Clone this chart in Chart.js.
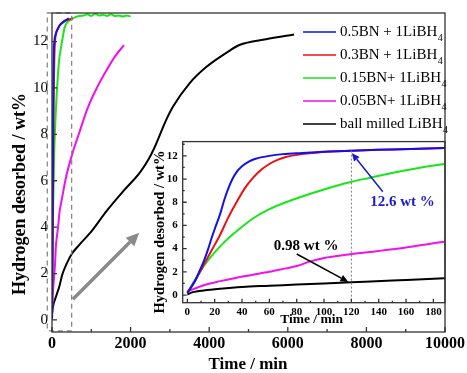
<!DOCTYPE html>
<html>
<head>
<meta charset="utf-8">
<script src="https://cdn.jsdelivr.net/npm/chart.js@4.4.1/dist/chart.umd.min.js"></script>
<style>
html, body { margin: 0; padding: 0; background: #fff; }
#wrap { position: relative; width: 467px; height: 373px; }
#main { position: absolute; left: 0; top: 0; }
#inset { position: absolute; left: 150px; top: 130px; }
</style>
</head>
<body>
<div id="wrap">
  <canvas id="main" width="467" height="373"></canvas>
  <canvas id="inset" width="300" height="200"></canvas>
</div>
<script>
// Series names (last digit is written as a subscript)
const seriesNames = ['0.5BN + 1LiBH4', '0.3BN + 1LiBH4', '0.15BN+ 1LiBH4', '0.05BN+ 1LiBH4', 'ball milled LiBH4'];

// Time (min) and hydrogen desorbed (wt%)
const time05BN = [0, 3, 6, 9, 12, 15, 18, 21, 24, 27, 30, 33, 36, 40, 45, 50, 60, 70, 84, 100, 120, 150, 188, 250, 330, 430];
const wt05BN   = [0.2, 0.7, 1.3, 2.1, 2.9, 3.9, 5.0, 6.0, 7.0, 8.2, 9.2, 10.0, 10.6, 11.1, 11.5, 11.75, 12.0, 12.15, 12.25, 12.35, 12.45, 12.55, 12.68, 12.8, 12.9, 13.0];

const time03BN = [0, 6, 12, 18, 24, 30, 36, 42, 48, 54, 60, 66, 72, 84, 96, 110, 120, 150, 188, 250, 330, 420, 530];
const wt03BN   = [0.2, 1.3, 2.6, 3.9, 5.2, 6.7, 8.0, 9.2, 10.1, 10.8, 11.3, 11.65, 11.9, 12.15, 12.3, 12.4, 12.45, 12.55, 12.68, 12.78, 12.88, 12.95, 13.0];

const time015BN = [0, 6, 12, 18, 24, 30, 36, 48, 60, 72, 84, 100, 118, 133, 157, 188, 236, 280, 320, 400, 490, 600, 700, 800, 900, 1000, 1100, 1200, 1300, 1400, 1500, 1600, 1700, 1800, 1900, 2000];
const wt015BN   = [0.2, 1.4, 2.5, 3.4, 4.2, 4.9, 5.5, 6.6, 7.4, 8.0, 8.5, 9.1, 9.7, 10.1, 10.7, 11.3, 11.8, 12.25, 12.6, 12.85, 12.95, 13.05, 13.1, 13.12, 13.18, 13.1, 13.2, 13.12, 13.15, 13.1, 13.18, 13.1, 13.12, 13.08, 13.12, 13.08];

const time005BN = [0, 12, 24, 36, 48, 60, 72, 80, 90, 100, 118, 140, 160, 188, 250, 350, 506, 700, 900, 1140, 1400, 1600, 1833];
const wt005BN   = [0.3, 0.85, 1.2, 1.5, 1.75, 2.0, 2.3, 2.5, 2.9, 3.2, 3.5, 3.8, 4.1, 4.6, 5.2, 6.1, 7.1, 8.1, 9.1, 10.0, 10.8, 11.35, 11.85];

const timeBM = [0, 4, 12, 24, 40, 60, 80, 100, 120, 150, 188, 260, 380, 506, 700, 970, 1392, 1814, 2235, 2450, 2600, 2750, 2900, 3080, 3500, 3924, 4514, 4767, 5443, 6160];
const wtBM   = [0.05, 0.25, 0.4, 0.55, 0.7, 0.8, 0.9, 1.0, 1.1, 1.25, 1.45, 1.95, 2.45, 2.85, 3.25, 3.75, 4.7, 5.55, 6.35, 6.9, 7.4, 8.0, 8.6, 9.2, 10.2, 10.9, 11.6, 11.85, 12.1, 12.3];

// Tick labels
const mainXTicks = [0, 2000, 4000, 6000, 8000, 10000];
const mainYTicks = [0, 2, 4, 6, 8, 10, 12];
const insetXTicks = [0, 20, 40, 60, 80, 100, 120, 140, 160, 180];
const insetYTicks = [0, 2, 4, 6, 8, 10, 12];

const allTimes = [time05BN, time03BN, time015BN, time005BN, timeBM];
const allWt = [wt05BN, wt03BN, wt015BN, wt005BN, wtBM];
const seriesColors = ['#1010ee', '#ee1010', '#18e618', '#f010f0', '#000000'];

const SERIF = '"Liberation Serif", "Times New Roman", serif';

function makeDatasets(width) {
    return seriesNames.map((name, i) => ({
        label: name,
        data: allTimes[i].map((t, j) => ({ x: t, y: allWt[i][j] })),
        borderColor: seriesColors[i],
        backgroundColor: seriesColors[i],
        borderWidth: width,
        pointRadius: 0,
        fill: false,
        cubicInterpolationMode: 'monotone'
    }));
}

function drawArrow(ctx, x1, y1, x2, y2, color, width, head, headW) {
    const a = Math.atan2(y2 - y1, x2 - x1);
    const bx = x2 - head * Math.cos(a), by = y2 - head * Math.sin(a);
    ctx.save();
    ctx.strokeStyle = color;
    ctx.fillStyle = color;
    ctx.lineWidth = width;
    ctx.beginPath();
    ctx.moveTo(x1, y1);
    ctx.lineTo(bx, by);
    ctx.stroke();
    ctx.beginPath();
    ctx.moveTo(x2, y2);
    ctx.lineTo(bx + headW * Math.sin(a), by - headW * Math.cos(a));
    ctx.lineTo(bx - headW * Math.sin(a), by + headW * Math.cos(a));
    ctx.closePath();
    ctx.fill();
    ctx.restore();
}

function drawText(ctx, text, x, y, font, color, rotate) {
    ctx.save();
    ctx.translate(x, y);
    if (rotate) ctx.rotate(-Math.PI / 2);
    ctx.font = font;
    ctx.fillStyle = color;
    ctx.textAlign = 'center';
    ctx.textBaseline = 'middle';
    ctx.fillText(text, 0, 0);
    ctx.restore();
}

// box round the plot and inward tick marks
function drawFrame(chart, xMajor, xMinor, yMajor, yMinor, len, minorLen) {
    const ctx = chart.ctx, a = chart.chartArea;
    const xs = chart.scales.x, ys = chart.scales.y;
    ctx.save();
    ctx.strokeStyle = '#333';
    ctx.lineWidth = 1.3;
    ctx.strokeRect(a.left, a.top, a.right - a.left, a.bottom - a.top);
    ctx.beginPath();
    for (let v = Math.ceil(xs.min / xMinor) * xMinor; v <= xs.max; v += xMinor) {
        const px = xs.getPixelForValue(v);
        const l = Math.abs(v / xMajor - Math.round(v / xMajor)) < 1e-6 ? len : minorLen;
        ctx.moveTo(px, a.bottom);
        ctx.lineTo(px, a.bottom - l);
    }
    for (let v = Math.ceil(ys.min / yMinor) * yMinor; v <= ys.max; v += yMinor) {
        const py = ys.getPixelForValue(v);
        const l = Math.abs(v / yMajor - Math.round(v / yMajor)) < 1e-6 ? len : minorLen;
        ctx.moveTo(a.left, py);
        ctx.lineTo(a.left + l, py);
    }
    ctx.stroke();
    ctx.restore();
}

const mainDecor = {
    id: 'mainDecor',
    afterDraw(chart) {
        const ctx = chart.ctx, a = chart.chartArea;
        const xs = chart.scales.x, ys = chart.scales.y;

        // dashed box marking the zoomed region
        ctx.save();
        ctx.strokeStyle = '#888';
        ctx.lineWidth = 1.3;
        ctx.setLineDash([5, 4]);
        ctx.strokeRect(xs.getPixelForValue(-120), a.top, xs.getPixelForValue(500) - xs.getPixelForValue(-120), ys.getPixelForValue(-0.47) - a.top);
        ctx.restore();

        drawFrame(chart, 2000, 1000, 2, 2, 5, 3);

        // grey arrow pointing to the inset
        drawArrow(ctx, xs.getPixelForValue(532), ys.getPixelForValue(0.89),
            xs.getPixelForValue(2219), ys.getPixelForValue(3.76), '#8a8a8a', 3.5, 13, 6);

        // legend
        ctx.save();
        seriesNames.forEach((name, i) => {
            const y = 32 + i * 23;
            ctx.strokeStyle = seriesColors[i];
            ctx.lineWidth = 1.6;
            ctx.beginPath();
            ctx.moveTo(303, y);
            ctx.lineTo(336, y);
            ctx.stroke();
            ctx.fillStyle = '#000';
            ctx.textBaseline = 'middle';
            ctx.textAlign = 'left';
            ctx.font = '15px ' + SERIF;
            const main = name.slice(0, -1);
            ctx.fillText(main, 340, y);
            const w = ctx.measureText(main).width;
            ctx.font = '10px ' + SERIF;
            ctx.fillText(name.slice(-1), 340 + w + 0.5, y + 6);
        });
        ctx.restore();

        drawText(ctx, 'Hydrogen desorbed / wt%', 20, 194, 'bold 18px ' + SERIF, '#000', true);
        drawText(ctx, 'Time / min', 248, 365, 'bold 17px ' + SERIF, '#000', false);
    }
};

const insetDecor = {
    id: 'insetDecor',
    afterDraw(chart) {
        const ctx = chart.ctx, a = chart.chartArea;
        const xs = chart.scales.x, ys = chart.scales.y;

        // dotted guide at 120 min
        ctx.save();
        ctx.strokeStyle = '#777';
        ctx.lineWidth = 1;
        ctx.setLineDash([2, 2]);
        ctx.beginPath();
        ctx.moveTo(xs.getPixelForValue(120), ys.getPixelForValue(12.45));
        ctx.lineTo(xs.getPixelForValue(120), a.bottom);
        ctx.stroke();
        ctx.restore();

        drawFrame(chart, 20, 10, 2, 1, 4, 2);

        drawArrow(ctx, xs.getPixelForValue(143), ys.getPixelForValue(8.9),
            xs.getPixelForValue(120.3), ys.getPixelForValue(12.25), '#1a1ad0', 1.5, 8, 3.5);
        drawText(ctx, '12.6 wt %', xs.getPixelForValue(157.4), ys.getPixelForValue(8.0), 'bold 15px ' + SERIF, '#1a1ad0', false);

        drawArrow(ctx, xs.getPixelForValue(80), ys.getPixelForValue(3.54),
            xs.getPixelForValue(117.8), ys.getPixelForValue(1.13), '#000', 1.5, 8, 3.5);
        drawText(ctx, '0.98 wt %', xs.getPixelForValue(86.9), ys.getPixelForValue(4.25), 'bold 15px ' + SERIF, '#000', false);

        drawText(ctx, 'Hydrogen desorbed / wt%', 10, 102, 'bold 14.5px ' + SERIF, '#000', true);
        drawText(ctx, 'Time / min', 161.6, 190, 'bold 13.5px ' + SERIF, '#000', false);
    }
};

function axis(min, max, ticks, fit, font, padding) {
    return {
        type: 'linear',
        min: min,
        max: max,
        afterBuildTicks: s => { s.ticks = ticks.map(v => ({ value: v })); },
        afterFit: fit,
        grid: { display: false, drawTicks: false },
        border: { display: false },
        ticks: {
            color: '#000', font: font, padding: padding, maxRotation: 0, autoSkip: false,
            callback: v => String(v)
        }
    };
}

new Chart(document.getElementById('main'), {
    type: 'line',
    data: { datasets: makeDatasets(2) },
    options: {
        responsive: false,
        animation: false,
        devicePixelRatio: 1,
        layout: { padding: { top: 13, right: 21, left: 0, bottom: 0 } },
        plugins: { legend: { display: false }, tooltip: { enabled: false } },
        scales: {
            x: axis(0, 10000, mainXTicks, s => { s.height = 41; }, { family: 'Liberation Serif', size: 16, weight: 'bold' }, 2),
            y: axis(-0.52, 13.23, mainYTicks, s => { s.width = 52; }, { family: 'Liberation Serif', size: 15 }, 4)
        }
    },
    plugins: [mainDecor]
});

new Chart(document.getElementById('inset'), {
    type: 'line',
    data: { datasets: makeDatasets(2) },
    options: {
        responsive: false,
        animation: false,
        devicePixelRatio: 1,
        layout: { padding: { top: 9.5, right: 5, left: 0, bottom: 0 } },
        plugins: { legend: { display: false }, tooltip: { enabled: false } },
        scales: {
            x: axis(-3.4, 188.5, insetXTicks, s => { s.height = 27.3; }, { family: 'Liberation Serif', size: 11, weight: 'bold' }, 3),
            y: axis(-0.66, 13.23, insetYTicks, s => { s.width = 32.7; }, { family: 'Liberation Serif', size: 11, weight: 'bold' }, 5)
        }
    },
    plugins: [insetDecor]
});
</script>
</body>
</html>
